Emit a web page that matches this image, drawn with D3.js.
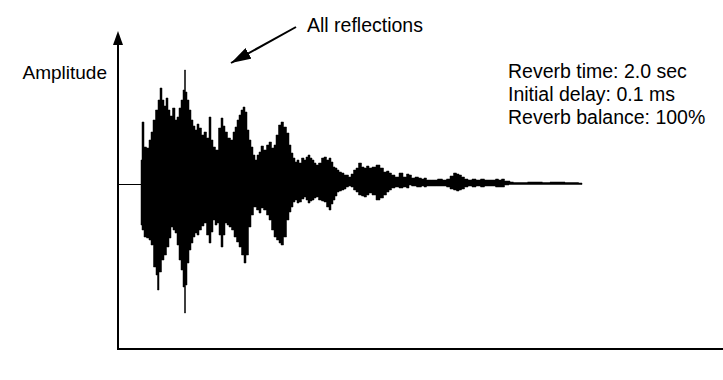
<!DOCTYPE html>
<html>
<head>
<meta charset="utf-8">
<script src="https://cdn.jsdelivr.net/npm/d3@7"></script>
<style>
  html, body { margin: 0; padding: 0; background: #fff; }
  text { font-family: "Liberation Sans", Arial, sans-serif; fill: #000; }
</style>
</head>
<body>
<svg id="viz"></svg>
<script>
// window sizing
var width = 723,
	height = 380;

// time in ms, amplitude in relative units
// upper envelope of the reverb response [time, amplitude]
var upperEnvelope = [
	[115, 0.24], [125, 0.62], [135, 0.37], [150, 0.36], [160, 0.44], [170, 0.52],
	[180, 0.64], [195, 0.74], [205, 0.84], [215, 0.96], [225, 0.84], [235, 0.78],
	[245, 0.86], [255, 0.74], [265, 0.68], [280, 0.76], [290, 0.64], [300, 0.67],
	[310, 0.76], [320, 0.84], [330, 0.94], [335, 1.14], [340, 0.92], [350, 0.84],
	[360, 0.74], [370, 0.64], [380, 0.58], [390, 0.54], [400, 0.60], [410, 0.56],
	[425, 0.49], [435, 0.52], [450, 0.46], [460, 0.67], [470, 0.44], [480, 0.37],
	[495, 0.34], [510, 0.56], [520, 0.66], [530, 0.58], [540, 0.52], [555, 0.46],
	[570, 0.44], [580, 0.52], [590, 0.57], [600, 0.64], [610, 0.69], [620, 0.74],
	[630, 0.77], [640, 0.72], [650, 0.54], [660, 0.44], [670, 0.37], [680, 0.29],
	[690, 0.24], [700, 0.29], [710, 0.32], [720, 0.38], [735, 0.34], [750, 0.39],
	[760, 0.42], [775, 0.36], [785, 0.39], [795, 0.49], [810, 0.59], [820, 0.62],
	[835, 0.57], [850, 0.51], [860, 0.39], [870, 0.31], [880, 0.26], [890, 0.22],
	[900, 0.24], [910, 0.21], [925, 0.26], [935, 0.24], [945, 0.27], [955, 0.29],
	[965, 0.26], [975, 0.24], [985, 0.21], [995, 0.19], [1010, 0.21], [1025, 0.26],
	[1035, 0.27], [1050, 0.24], [1060, 0.26], [1070, 0.22], [1080, 0.17], [1090, 0.16],
	[1100, 0.14], [1110, 0.12], [1125, 0.11], [1135, 0.09], [1145, 0.09], [1160, 0.07],
	[1170, 0.10], [1185, 0.14], [1195, 0.16], [1210, 0.21], [1225, 0.17], [1235, 0.16],
	[1250, 0.18], [1260, 0.16], [1280, 0.17], [1300, 0.19], [1320, 0.16], [1335, 0.12],
	[1350, 0.13], [1360, 0.11], [1375, 0.09], [1395, 0.07], [1415, 0.11], [1435, 0.07],
	[1450, 0.10], [1460, 0.09], [1475, 0.06], [1495, 0.07], [1510, 0.06], [1525, 0.05],
	[1535, 0.06], [1550, 0.04], [1585, 0.04], [1610, 0.05], [1635, 0.04], [1650, 0.05],
	[1670, 0.08], [1685, 0.11], [1700, 0.10], [1710, 0.09], [1725, 0.07], [1740, 0.05],
	[1760, 0.04], [1780, 0.05], [1800, 0.04], [1825, 0.05], [1840, 0.04], [1880, 0.04],
	[1895, 0.05], [1910, 0.04], [1925, 0.05], [1940, 0.03], [1950, 0.03], [1970, 0.02],
	[1985, 0.015], [2110, 0.02], [2135, 0.015], [2185, 0.02], [2285, 0.015], [2320, 0.01]
];

// lower envelope of the reverb response [time, amplitude]
var lowerEnvelope = [
	[115, -0.41], [125, -0.46], [135, -0.53], [150, -0.54], [160, -0.56], [170, -0.61],
	[185, -0.83], [195, -0.91], [200, -1.06], [210, -0.88], [225, -0.76], [235, -0.71],
	[250, -0.63], [260, -0.54], [270, -0.43], [280, -0.46], [290, -0.49], [300, -0.61],
	[310, -0.76], [320, -0.86], [330, -1.03], [335, -1.29], [340, -1.01], [350, -0.79],
	[360, -0.66], [370, -0.59], [380, -0.53], [390, -0.49], [400, -0.51], [410, -0.46],
	[425, -0.42], [435, -0.39], [450, -0.51], [460, -0.59], [470, -0.48], [480, -0.36],
	[490, -0.41], [500, -0.39], [510, -0.51], [520, -0.63], [530, -0.51], [540, -0.39],
	[550, -0.41], [560, -0.43], [575, -0.46], [585, -0.53], [600, -0.58], [610, -0.63],
	[625, -0.71], [635, -0.79], [645, -0.71], [660, -0.43], [670, -0.31], [685, -0.23],
	[700, -0.26], [710, -0.29], [720, -0.24], [735, -0.26], [750, -0.31], [760, -0.36],
	[775, -0.46], [785, -0.53], [800, -0.56], [810, -0.59], [820, -0.61], [835, -0.53],
	[850, -0.36], [860, -0.28], [870, -0.23], [880, -0.18], [890, -0.16], [900, -0.19],
	[910, -0.18], [925, -0.15], [935, -0.13], [945, -0.16], [955, -0.19], [965, -0.17],
	[975, -0.16], [985, -0.14], [995, -0.13], [1010, -0.16], [1025, -0.17], [1035, -0.18],
	[1050, -0.23], [1060, -0.26], [1070, -0.20], [1080, -0.16], [1090, -0.12], [1100, -0.08],
	[1110, -0.07], [1125, -0.06], [1135, -0.05], [1145, -0.03], [1160, -0.02], [1170, -0.03],
	[1185, -0.06], [1195, -0.08], [1210, -0.11], [1225, -0.12], [1235, -0.13], [1250, -0.11],
	[1260, -0.09], [1280, -0.11], [1300, -0.16], [1320, -0.14], [1335, -0.11], [1350, -0.08],
	[1360, -0.06], [1375, -0.04], [1395, -0.03], [1415, -0.04], [1435, -0.03], [1450, -0.04],
	[1460, -0.01], [1475, -0.02], [1510, -0.03], [1525, -0.02], [1535, -0.03], [1550, -0.02],
	[1635, -0.02], [1650, -0.03], [1670, -0.05], [1685, -0.06], [1700, -0.07], [1710, -0.06],
	[1725, -0.05], [1740, -0.03], [1760, -0.02], [1780, -0.03], [1800, -0.02], [1825, -0.03],
	[1840, -0.02], [1880, -0.02], [1895, -0.03], [1925, -0.03], [1940, -0.01], [1970, -0.005],
	[2320, -0.005]
];

// texts
var yLabel = "Amplitude";
var calloutLabel = "All reflections";
var settings = ["Reverb time: 2.0 sec", "Initial delay: 0.1 ms", "Reverb balance: 100%"];

// scales
var x = d3.scaleLinear().domain([0, 3025]).range([118, 723]);
var y = d3.scaleLinear().domain([-1.65, 1.53]).range([349, 31]);

var svg = d3.select("#viz").attr("width", width).attr("height", height);

// arrow heads, drawn pointing along the line direction
var defs = svg.append("defs");
defs.append("marker")
	.attr("id", "axisHead")
	.attr("viewBox", "0 0 14 10")
	.attr("refX", 0).attr("refY", 5)
	.attr("markerUnits", "userSpaceOnUse")
	.attr("markerWidth", 14).attr("markerHeight", 10)
	.attr("orient", "auto")
	.append("path").attr("d", "M0,0 L14,5 L0,10 Z").attr("fill", "#000");
defs.append("marker")
	.attr("id", "pointHead")
	.attr("viewBox", "0 0 20 12")
	.attr("refX", 20).attr("refY", 6)
	.attr("markerUnits", "userSpaceOnUse")
	.attr("markerWidth", 20).attr("markerHeight", 12)
	.attr("orient", "auto")
	.append("path").attr("d", "M0,0 L20,6 L0,12 Z").attr("fill", "#000");

// baseline before the response starts
svg.append("line")
	.attr("x1", x(0)).attr("x2", x(upperEnvelope[0][0]))
	.attr("y1", y(0) + 0.5).attr("y2", y(0) + 0.5)
	.attr("stroke", "#000").attr("stroke-width", 1);

// waveform drawn as the region between both envelopes
var outline = upperEnvelope.concat(lowerEnvelope.slice().reverse());
var wave = d3.line()
	.x(function(d) { return x(d[0]); })
	.y(function(d) { return y(d[1]); })
	.curve(d3.curveStep);
svg.append("path")
	.attr("d", wave(outline) + "Z")
	.attr("fill", "#000")
	.attr("stroke", "#000")
	.attr("stroke-width", 0.5);

// axes
svg.append("line")
	.attr("x1", x(0)).attr("x2", x(0))
	.attr("y1", y(-1.65) + 1).attr("y2", y(1.53) + 14)
	.attr("stroke", "#000").attr("stroke-width", 2)
	.attr("marker-end", "url(#axisHead)");
svg.append("line")
	.attr("x1", x(0) - 1).attr("x2", width)
	.attr("y1", y(-1.65)).attr("y2", y(-1.65))
	.attr("stroke", "#000").attr("stroke-width", 2);

// labels
svg.append("text")
	.attr("x", 107).attr("y", 79)
	.attr("text-anchor", "end")
	.style("font-size", "19px")
	.text(yLabel);

svg.append("text")
	.attr("x", 307).attr("y", 32)
	.style("font-size", "19.5px")
	.text(calloutLabel);

svg.append("line")
	.attr("x1", 296).attr("y1", 27)
	.attr("x2", 231).attr("y2", 63)
	.attr("stroke", "#000").attr("stroke-width", 2)
	.attr("marker-end", "url(#pointHead)");

svg.append("g")
	.selectAll("text")
	.data(settings)
	.enter()
	.append("text")
	.attr("x", 508)
	.attr("y", function(d, i) { return 78 + i * 23; })
	.style("font-size", "19.5px")
	.text(function(d) { return d; });
</script>
</body>
</html>
